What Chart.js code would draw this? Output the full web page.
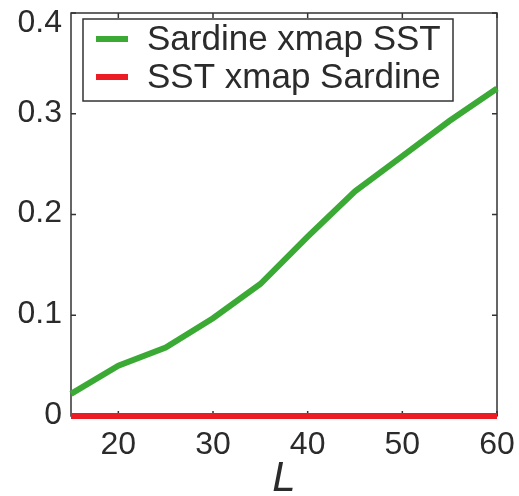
<!DOCTYPE html>
<html lang="en">
<head>
  <meta charset="UTF-8" />
  <title>Sardine / SST cross-map skill</title>
  <script src="https://cdn.jsdelivr.net/npm/chart.js"></script>
  <style>
    body {
      margin: 0;
      background-color: #ffffff;
    }
    canvas {
      display: block;
    }
  </style>
</head>
<body>
  <canvas id="xmapChart" width="519" height="496"></canvas>

  <script>
    // library length L
    const libLength = [15, 20, 25, 30, 35, 40, 45, 50, 55, 60];
    const sardineXmapSST = [0.022, 0.05, 0.068, 0.097, 0.131, 0.178, 0.223, 0.258, 0.293, 0.325];
    const sstXmapSardine = [0, 0, 0, 0, 0, 0, 0, 0, 0, 0];
    const xTicks = [20, 30, 40, 50, 60];
    const yTicks = [0, 0.1, 0.2, 0.3, 0.4];
    const yMax = 0.4;

    const axisColor = "#333333";
    const textColor = "#2b2b2b";
    const fontFamily = "'Liberation Sans', Arial, sans-serif";

    // box round the plot, with ticks pointing inward
    const boxPlugin = {
      id: "box",
      beforeDatasetsDraw(chart) {
        const { ctx, chartArea: a, scales } = chart;
        ctx.save();
        ctx.strokeStyle = axisColor;
        ctx.lineWidth = 1.5;
        ctx.strokeRect(a.left, a.top, a.right - a.left, a.bottom - a.top);
        ctx.beginPath();
        xTicks.forEach(v => {
          const x = scales.x.getPixelForValue(v);
          ctx.moveTo(x, a.top); ctx.lineTo(x, a.top + 5);
          ctx.moveTo(x, a.bottom); ctx.lineTo(x, a.bottom - 5);
        });
        yTicks.forEach(v => {
          const y = scales.y.getPixelForValue(v);
          ctx.moveTo(a.left, y); ctx.lineTo(a.left + 5, y);
          ctx.moveTo(a.right, y); ctx.lineTo(a.right - 5, y);
        });
        ctx.stroke();
        ctx.restore();
      },
      // the top label sits a little below its tick, as in the original
      afterDraw(chart) {
        const { ctx, chartArea: a, scales } = chart;
        ctx.save();
        ctx.font = "32px " + fontFamily;
        ctx.fillStyle = textColor;
        ctx.textAlign = "right";
        ctx.textBaseline = "middle";
        ctx.fillText(String(yMax), a.left - 9, scales.y.getPixelForValue(yMax) + 10);
        ctx.restore();
      }
    };

    // legend with a border, top left inside the plot
    const legendPlugin = {
      id: "boxLegend",
      afterDraw(chart) {
        const { ctx, chartArea: a } = chart;
        const left = a.left + 12;
        const top = a.top + 6;
        ctx.save();
        ctx.fillStyle = "#ffffff";
        ctx.fillRect(left, top, 370, 82);
        ctx.strokeStyle = axisColor;
        ctx.lineWidth = 1.5;
        ctx.strokeRect(left, top, 370, 82);
        ctx.font = "35px " + fontFamily;
        ctx.textBaseline = "middle";
        chart.data.datasets.forEach((ds, i) => {
          const y = top + 20 + i * 38;
          ctx.strokeStyle = ds.borderColor;
          ctx.lineWidth = 6;
          ctx.beginPath();
          ctx.moveTo(left + 13, y);
          ctx.lineTo(left + 45, y);
          ctx.stroke();
          ctx.fillStyle = textColor;
          ctx.fillText(ds.label, left + 64, y + 1);
        });
        ctx.restore();
      }
    };

    new Chart(document.getElementById("xmapChart"), {
      type: "line",
      data: {
        datasets: [
          {
            label: "Sardine xmap SST",
            data: libLength.map((l, i) => ({ x: l, y: sardineXmapSST[i] })),
            borderColor: "#3aaa35",
            borderWidth: 6,
            pointRadius: 0,
            clip: false
          },
          {
            label: "SST xmap Sardine",
            data: libLength.map((l, i) => ({ x: l, y: sstXmapSardine[i] })),
            borderColor: "#ed1c24",
            borderWidth: 6,
            pointRadius: 0,
            clip: false
          }
        ]
      },
      options: {
        responsive: false,
        animation: false,
        devicePixelRatio: 1,
        layout: { padding: { top: 13, right: 22, left: 0, bottom: 0 } },
        plugins: {
          legend: { display: false },
          tooltip: { enabled: false }
        },
        scales: {
          x: {
            type: "linear",
            min: 15,
            max: 60,
            afterBuildTicks: s => { s.ticks = xTicks.map(v => ({ value: v })); },
            afterFit: s => { s.height = 80; s.paddingLeft = 0; s.paddingRight = 0; },
            grid: { display: false, drawTicks: false },
            border: { display: false },
            ticks: {
              color: textColor,
              padding: 10,
              font: { family: fontFamily, size: 32 },
              maxRotation: 0
            },
            title: {
              display: true,
              text: "L",
              color: textColor,
              padding: { top: 0, bottom: 0 },
              font: { family: fontFamily, size: 42, style: "italic", lineHeight: 0.8 }
            }
          },
          y: {
            type: "linear",
            min: 0,
            max: yMax,
            afterBuildTicks: s => { s.ticks = yTicks.map(v => ({ value: v })); },
            afterFit: s => { s.width = 71; s.paddingTop = 0; s.paddingBottom = 0; },
            grid: { display: false, drawTicks: false },
            border: { display: false },
            ticks: {
              color: textColor,
              padding: 9,
              labelOffset: -1,
              font: { family: fontFamily, size: 32 },
              callback: v => (v === yMax ? "" : String(v))
            }
          }
        }
      },
      plugins: [boxPlugin, legendPlugin]
    });
  </script>
</body>
</html>
